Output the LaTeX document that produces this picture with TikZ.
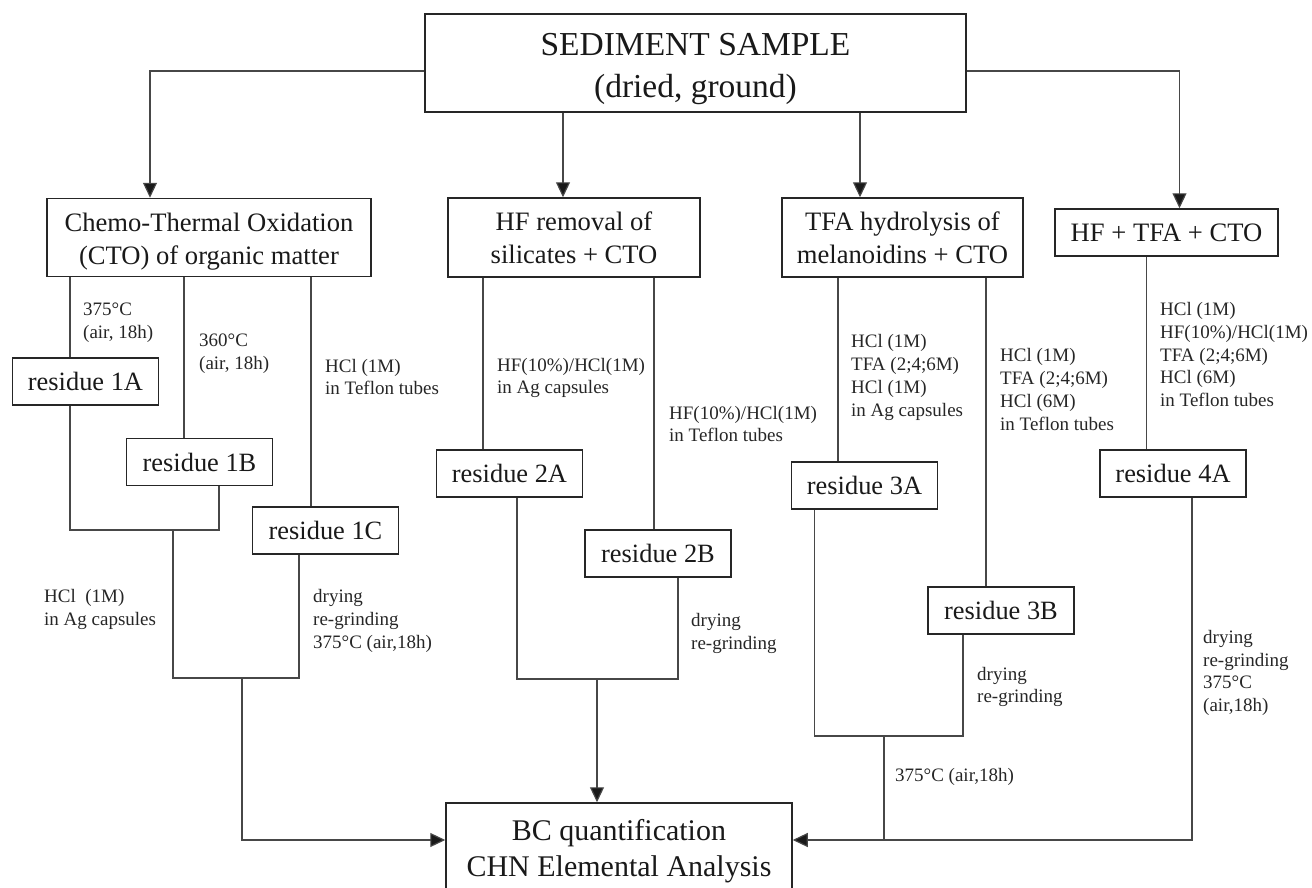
\documentclass[tikz,border=0pt]{standalone}
\usepackage{fontspec}
\setmainfont{Liberation Serif}
\usetikzlibrary{arrows.meta}
\begin{document}
\begin{tikzpicture}[x=1pt,y=-1pt,
 box/.style={draw=black!85, line width=1.5pt, inner sep=0pt, align=center, text=black!90},
 conn/.style={draw=black!72, line width=1.2pt},
 arr/.style={conn, -{Triangle[length=15pt,width=14pt,fill=black!90]}},
 lbl/.style={anchor=west, align=left, inner sep=0pt, font=\fontsize{19}{22.8}\selectfont, text=black!85},
 res/.style={box, minimum width=146pt, minimum height=47pt, font=\fontsize{26.4}{30}\selectfont},
 big/.style={box, font=\fontsize{26.6}{33}\selectfont},
]
\useasboundingbox (0,0) rectangle (1312,888);

% main boxes
\node[box, minimum width=541pt, minimum height=98pt, font=\fontsize{33.5}{42}\selectfont] (sed) at (695.5,63) {\rule{0pt}{34pt}SEDIMENT SAMPLE\\(dried, ground)};
\node[big, minimum width=324pt, minimum height=78pt] (cto) at (209,237.5) {\rule{0pt}{27pt}Chemo-Thermal Oxidation\\(CTO) of organic matter};
\node[big, minimum width=252pt, minimum height=79pt] (hfr) at (574,237.5) {HF removal of\\silicates + CTO};
\node[big, minimum width=241pt, minimum height=79pt] (tfa) at (902.5,237.5) {TFA hydrolysis of\\melanoidins + CTO};
\node[big, minimum width=223pt, minimum height=47pt] (hf4) at (1166.5,232.5) {HF + TFA + CTO};
\node[box, minimum width=346pt, minimum height=97pt, font=\fontsize{30}{36}\selectfont] (bc) at (619,851.5) {BC quantification\\CHN Elemental Analysis};

% residues
\node[res] (r1A) at (85.5,381.5) {residue 1A};
\node[res] (r1B) at (199.5,462) {residue 1B};
\node[res] (r1C) at (325.5,530.5) {residue 1C};
\node[res] (r2A) at (509.5,473.5) {residue 2A};
\node[res] (r2B) at (658,553.5) {residue 2B};
\node[res] (r3A) at (864.5,485.5) {residue 3A};
\node[res] (r3B) at (1001,610.5) {residue 3B};
\node[res] (r4A) at (1173,473.5) {residue 4A};

% junction coordinates
\coordinate (jL) at (150,71);
\coordinate (jR) at (1179.5,71);
\coordinate (xHF) at (563,0);
\coordinate (xTFA) at (860,0);
\coordinate (c1a) at (70,530);
\coordinate (c1b) at (219,530);
\coordinate (c1m) at (173,530);
\coordinate (c1mb) at (173,678);
\coordinate (c1c) at (299,678);
\coordinate (c1o) at (242,678);
\coordinate (c1e) at (242,840);
\coordinate (c2a) at (517,679);
\coordinate (c2b) at (678,679);
\coordinate (c2o) at (597,679);
\coordinate (c3a) at (814.6,736);
\coordinate (c3b) at (963,736);
\coordinate (c3o) at (884,736);
\coordinate (c3e) at (884,840);
\coordinate (c4e) at (1192,840);

% from sample
\draw[arr] (sed.west|-jL) -- (jL) -- (jL|-cto.north);
\draw[arr] (sed.south-|xHF) -- (hfr.north-|xHF);
\draw[arr] (sed.south-|xTFA) -- (tfa.north-|xTFA);
\draw[arr] (sed.east|-jR) -- (jR) -- (jR|-hf4.north);

% CTO branches
\draw[conn] (cto.south-|c1a) -- (r1A.north-|c1a);
\draw[conn] (cto.south-|184,0) -- (r1B.north-|184,0);
\draw[conn] (cto.south-|311,0) -- (r1C.north-|311,0);
\draw[conn] (r1A.south-|c1a) -- (c1a) -- (c1b) -- (r1B.south-|c1b);
\draw[conn] (c1m) -- (c1mb) -- (c1c) -- (r1C.south-|c1c);
\draw[arr] (c1o) -- (c1e) -- (bc.west|-c1e);

% HF branches
\draw[conn] (hfr.south-|483,0) -- (r2A.north-|483,0);
\draw[conn] (hfr.south-|654,0) -- (r2B.north-|654,0);
\draw[conn] (r2A.south-|c2a) -- (c2a) -- (c2b) -- (r2B.south-|c2b);
\draw[arr] (c2o) -- (bc.north-|c2o);

% TFA branches
\draw[conn] (tfa.south-|838,0) -- (r3A.north-|838,0);
\draw[conn] (tfa.south-|986,0) -- (r3B.north-|986,0);
\draw[conn] (r3A.south-|c3a) -- (c3a) -- (c3b) -- (r3B.south-|c3b);
\draw[conn] (c3o) -- (c3e);

% HF+TFA+CTO branch
\draw[conn] (hf4.south-|1146.6,0) -- (r4A.north-|1146.6,0);
\draw[arr] (r4A.south-|c4e) -- (c4e) -- (bc.east|-c4e);

% labels
\node[lbl] (l1) at (83,323) {375°C\\(air, 18h)};
\node[lbl] (l2) at (199,354) {360°C\\(air, 18h)};
\node[lbl] (l3) at (325,377) {HCl (1M)\\in Teflon tubes};
\node[lbl] (l4) at (497,378) {HF(10\%)/HCl(1M)\\in Ag capsules};
\node[lbl] (l5) at (669,424) {HF(10\%)/HCl(1M)\\in Teflon tubes};
\node[lbl] (l6) at (851,377.5) {HCl (1M)\\TFA (2;4;6M)\\HCl (1M)\\in Ag capsules};
\node[lbl] (l7) at (1000,389.5) {HCl (1M)\\TFA (2;4;6M)\\HCl (6M)\\in Teflon tubes};
\node[lbl] (l8) at (1160,354.5) {HCl (1M)\\HF(10\%)/HCl(1M)\\TFA (2;4;6M)\\HCl (6M)\\in Teflon tubes};
\node[lbl] (l9) at (44,609.5) {HCl\ \ (1M)\\in Ag capsules};
\node[lbl] (l10) at (313,621) {drying\\re-grinding\\375°C (air,18h)};
\node[lbl] (l11) at (691,633.5) {drying\\re-grinding};
\node[lbl] (l12) at (977,687) {drying\\re-grinding};
\node[lbl] (l13) at (895,777) {375°C (air,18h)};
\node[lbl] (l14) at (1203,673) {drying\\re-grinding\\375°C\\(air,18h)};
\end{tikzpicture}
\end{document}
